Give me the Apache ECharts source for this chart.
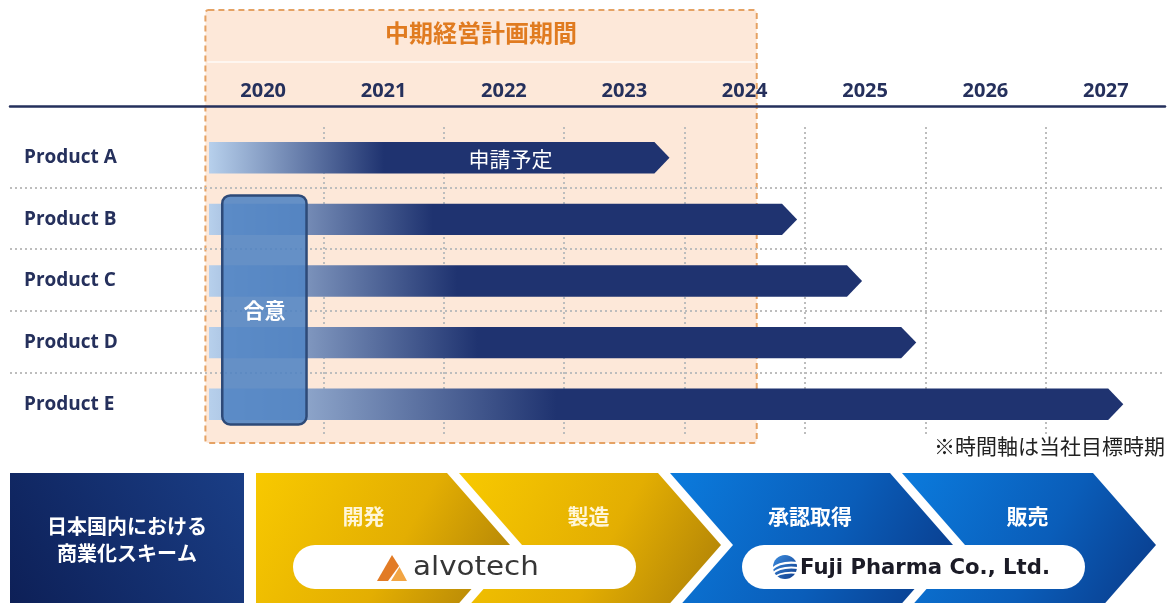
<!DOCTYPE html>
<html>
<head>
<meta charset="utf-8">
<title>開発スケジュール</title>
<script src="https://cdn.jsdelivr.net/npm/echarts@6/dist/echarts.min.js"></script>
<style>
  html, body { margin: 0; padding: 0; background: #ffffff; }
  #chart { width: 1170px; height: 603px; }
</style>
</head>
<body>
<div id="chart"></div>
<script>
// ---- timeline data ----
const years = ['2020', '2021', '2022', '2023', '2024', '2025', '2026', '2027'];
const products = ['Product A', 'Product B', 'Product C', 'Product D', 'Product E'];
const barStart = [2020.05, 2020.05, 2020.05, 2020.05, 2020.05];
const barEnd = [2023.75, 2024.81, 2025.35, 2025.8, 2027.52];
const barNotes = ['申請予定', '', '', '', ''];
const planPeriod = [2020.02, 2024.6];
const planTitle = '中期経営計画期間';
const agreementSpan = [2020.16, 2020.86];
const agreementRows = ['Product B', 'Product E'];
const agreementLabel = '合意';
const footnote = '※時間軸は当社目標時期';

// ---- commercialisation scheme ----
const schemeTitle = '日本国内における\n商業化スキーム';
const steps = ['開発', '製造', '承認取得', '販売'];
const partners = ['alvotech', 'Fuji Pharma Co., Ltd.'];

const CJK = '"Noto Sans CJK JP", "Noto Sans CJK SC", sans-serif';
const LAT = '"Open Sans", "Noto Sans", sans-serif';
const NAVY = '#1f3370';
const INK = '#25305c';

const chart = echarts.init(document.getElementById('chart'), null, { renderer: 'canvas' });

// ---- scheme layout (chevron band below the timeline) ----
const band = { top: 473, mid: 545, bottom: 617, depth: 63, gap: 12, left: 256 };
const stepRight = [447, 658, 890, 1093];
const pillY = 545, pillH = 44;

function chevron(i) {
  const r = stepRight[i];
  const l = i === 0 ? band.left : stepRight[i - 1] + band.gap;
  const pts = [[l, band.top], [r, band.top], [r + band.depth, band.mid], [r, band.bottom], [l, band.bottom]];
  if (i > 0) pts.push([l + band.depth, band.mid]);
  return pts;
}

function schemeGraphics() {
  const out = [];
  out.push({
    type: 'rect', shape: { x: 10, y: band.top, width: 234, height: 140 },
    style: { fill: new echarts.graphic.LinearGradient(1, 0, 0, 1, [
      { offset: 0, color: '#1a3e86' }, { offset: 1, color: '#0d1f56' }]) }
  });
  out.push({
    type: 'text', x: 127, y: 540,
    style: { text: schemeTitle, align: 'center', verticalAlign: 'middle', fill: '#ffffff',
      fontFamily: CJK, fontWeight: 'bold', fontSize: 20, lineHeight: 27 }
  });
  steps.forEach((name, i) => {
    const gold = i < 2;
    const pts = chevron(i);
    out.push({
      type: 'polygon', shape: { points: pts },
      style: { fill: new echarts.graphic.LinearGradient(0, 0, 1, 1, gold ? [
        { offset: 0, color: '#f8c900' }, { offset: 0.55, color: '#e3ae02' }, { offset: 1, color: '#a97c08' }] : [
        { offset: 0, color: '#0b7bdd' }, { offset: 0.55, color: '#0a5db9' }, { offset: 1, color: '#0a3886' }]) }
    });
    const l = pts[0][0], r = stepRight[i];
    out.push({
      type: 'text', x: (l + r) / 2 + (i === 0 ? 12 : 30), y: 516,
      style: { text: name, align: 'center', verticalAlign: 'middle', fill: gold ? '#fff6d8' : '#ffffff',
        fontFamily: CJK, fontWeight: 'bold', fontSize: 21 }
    });
  });
  // partner pills
  const pills = [[293, 636], [742, 1085]];
  pills.forEach(([x0, x1]) => {
    out.push({ type: 'rect', shape: { x: x0, y: pillY, width: x1 - x0, height: pillH, r: pillH / 2 },
      style: { fill: '#ffffff' } });
  });
  // alvotech mark and wordmark
  out.push({ type: 'polygon', shape: { points: [[377, 581], [392, 555], [399, 566], [388, 581]] },
    style: { fill: '#e27b25' } });
  out.push({ type: 'polygon', shape: { points: [[391, 581], [399.5, 567], [407, 581]] },
    style: { fill: '#f2a543' } });
  out.push({ type: 'text', x: 413, y: 568, scaleX: 1.13, originX: 0, originY: 0,
    style: { text: partners[0], x: 0, y: 0, align: 'left', verticalAlign: 'middle', fill: '#363636',
      fontFamily: '"DejaVu Sans", sans-serif', fontSize: 26 } });
  // Fuji Pharma mark and wordmark
  out.push({ type: 'circle', shape: { cx: 785, cy: 567, r: 12 },
    style: { fill: new echarts.graphic.LinearGradient(0, 0, 1, 1, [
      { offset: 0, color: '#3d8ee0' }, { offset: 1, color: '#0d3a8a' }]) } });
  [[565, 2.2], [570, 2], [575, 1.8]].forEach(([y, w]) => {
    out.push({ type: 'bezierCurve',
      shape: { x1: 772, y1: y + 4, cpx1: 780, cpy1: y - 4, x2: 798, y2: y - 2 },
      style: { stroke: '#ffffff', lineWidth: w, fill: null } });
  });
  out.push({ type: 'text', x: 800, y: 568,
    style: { text: partners[1], align: 'left', verticalAlign: 'middle', fill: '#1b1b26',
      fontFamily: '"DejaVu Sans", sans-serif', fontWeight: 'bold', fontSize: 21.2 } });
  return out;
}

const dotted = { type: [2, 3], color: '#bdbdbd', width: 2 };

const option = {
  animation: false,
  backgroundColor: '#ffffff',
  grid: [
    { left: 203, right: 4, top: 127, bottom: 168 },
    { left: 10, right: 5, top: 126, bottom: 169 }
  ],
  xAxis: [
    { type: 'value', gridIndex: 0, min: 2020, max: 2028, interval: 1,
      axisLine: { show: false }, axisTick: { show: false }, axisLabel: { show: false },
      splitLine: { show: true, showMinLine: false, showMaxLine: false, lineStyle: dotted } },
    { type: 'category', gridIndex: 0, position: 'top', data: years,
      axisLine: { show: false }, axisTick: { show: false }, splitLine: { show: false },
      axisLabel: { margin: 26, fontFamily: LAT, fontWeight: 'bold', fontSize: 20, color: INK } },
    { type: 'value', gridIndex: 1, position: 'top', offset: 20, min: 0, max: 1,
      axisLine: { show: true, onZero: false, lineStyle: { color: INK, width: 2.5 } },
      axisTick: { show: false }, axisLabel: { show: false }, splitLine: { show: false } }
  ],
  yAxis: [
    { type: 'category', gridIndex: 0, data: products, inverse: true,
      axisLine: { show: false }, axisTick: { show: false }, splitLine: { show: false },
      axisLabel: { align: 'left', margin: 179, fontFamily: LAT, fontWeight: 'bold', fontSize: 19, color: INK } },
    { type: 'category', gridIndex: 1, data: products, inverse: true,
      axisLine: { show: false }, axisTick: { show: false }, axisLabel: { show: false },
      splitLine: { show: true, interval: 0, showMinLine: false, showMaxLine: false, lineStyle: dotted } }
  ],
  graphic: [
    { type: 'text', right: 5, top: 436,
      style: { text: footnote, fill: '#222222', fontFamily: CJK, fontSize: 21 } }
  ].concat(schemeGraphics()),
  series: [
    {
      // mid-term plan frame
      type: 'custom', name: planTitle, xAxisIndex: 0, yAxisIndex: 0, z: -1, silent: true,
      encode: { x: [0, 1] },
      data: [planPeriod],
      renderItem(params, api) {
        const x0 = api.coord([api.value(0), 0])[0];
        const x1 = api.coord([api.value(1), 0])[0];
        const top = 10, bottom = 443;
        return { type: 'group', children: [
          { type: 'rect', shape: { x: x0, y: top, width: x1 - x0, height: bottom - top, r: 3 },
            style: { fill: '#fde8d9', stroke: '#e5a264', lineWidth: 2, lineDash: [6, 4] } },
          { type: 'line', shape: { x1: x0 + 2, y1: 62, x2: x1 - 2, y2: 62 },
            style: { stroke: '#ffffff', lineWidth: 1.5, opacity: 0.8 } },
          { type: 'text', style: { text: planTitle, x: (x0 + x1) / 2, y: 33, align: 'center', verticalAlign: 'middle',
            fill: '#e07b20', fontFamily: CJK, fontWeight: 'bold', fontSize: 24 } }
        ] };
      }
    },
    {
      // product timelines as arrow bars
      type: 'custom', name: 'timeline', xAxisIndex: 0, yAxisIndex: 0, z: 3,
      encode: { x: [0, 1], y: 2 },
      data: products.map((p, i) => [barStart[i], barEnd[i], i]),
      renderItem(params, api) {
        const i = api.value(2);
        const a = api.coord([api.value(0), i]);
        const b = api.coord([api.value(1), i]);
        const rowH = api.size([0, 1])[1];
        const h = rowH * 0.51;
        const tip = h * 0.48;
        const y = a[1];
        const len = b[0] + tip - a[0];
        const fill = new echarts.graphic.LinearGradient(a[0], 0, a[0] + len * 0.38, 0, [
          { offset: 0, color: '#b7d0ec' }, { offset: 1, color: NAVY }], true);
        const children = [{
          type: 'polygon',
          shape: { points: [[a[0], y - h / 2], [b[0], y - h / 2], [b[0] + tip, y], [b[0], y + h / 2], [a[0], y + h / 2]] },
          style: { fill }
        }];
        const note = barNotes[params.dataIndex];
        if (note) {
          children.push({ type: 'text', style: { text: note, x: a[0] + len * 0.655, y: y + 1,
            align: 'center', verticalAlign: 'middle', fill: '#ffffff', fontFamily: CJK, fontSize: 21 } });
        }
        return { type: 'group', children };
      }
    },
    {
      // agreement block spanning several products
      type: 'custom', name: agreementLabel, xAxisIndex: 0, yAxisIndex: 0, z: 4,
      encode: { x: [0, 1], y: [2, 3] },
      data: [[agreementSpan[0], agreementSpan[1], products.indexOf(agreementRows[0]), products.indexOf(agreementRows[1])]],
      renderItem(params, api) {
        const p0 = api.coord([api.value(0), api.value(2)]);
        const p1 = api.coord([api.value(1), api.value(3)]);
        const rowH = api.size([0, 1])[1];
        const top = p0[1] - rowH * 0.39;
        const bottom = p1[1] + rowH * 0.33;
        return { type: 'group', children: [
          { type: 'rect', shape: { x: p0[0], y: top, width: p1[0] - p0[0], height: bottom - top, r: 8 },
            style: { fill: 'rgba(80,131,195,0.88)', stroke: '#2e4a78', lineWidth: 2.5 } },
          { type: 'text', style: { text: agreementLabel, x: (p0[0] + p1[0]) / 2, y: (top + bottom) / 2,
            align: 'center', verticalAlign: 'middle', fill: '#ffffff', fontFamily: CJK, fontWeight: 'bold', fontSize: 21 } }
        ] };
      }
    }
  ]
};

chart.setOption(option);
</script>
</body>
</html>
